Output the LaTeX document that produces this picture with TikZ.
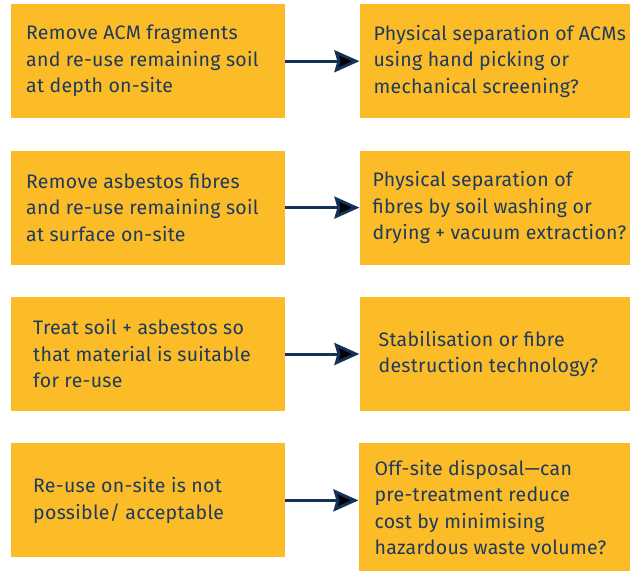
\documentclass[tikz,border=0pt]{standalone}
\usepackage{fontspec}
\setmainfont[LetterSpace = 1.5]{Fira Sans}
\usetikzlibrary{positioning, arrows.meta}
\definecolor{optyellow}{HTML}{FBBC28}
\definecolor{optnavy}{HTML}{1E3A5F}
\definecolor{arrnavy}{HTML}{12325A}

\begin{document}
\begin{tikzpicture}[x = 1pt, y = 1pt,
    option/.style = {fill = optyellow, minimum width = 274pt, minimum height = 114pt, inner sep = 0pt},
    method/.style = {fill = optyellow, minimum width = 271pt, minimum height = 114pt, inner sep = 0pt},
    txt/.style = {align = left, inner sep = 0pt, text = optnavy, font = \fontsize{19.5}{26.5}\selectfont},
    link/.style = {draw = arrnavy, line width = 3pt, -{Stealth[length = 25pt, width = 22pt, inset = 3pt]}}]
  \useasboundingbox (0,0) rectangle (630,-571);
  % left column: re-use options
  \node[option, anchor = north west] (o1) at (11,-4) {};
  \node[option, below = 32pt of o1] (o2) {};
  \node[option, below = 32pt of o2] (o3) {};
  \node[option, below = 32pt of o3] (o4) {};
  % right column: methods
  \node[method, right = 74pt of o1] (m1) {};
  \node[method, right = 74pt of o2] (m2) {};
  \node[method, right = 74pt of o3] (m3) {};
  \node[method, minimum height = 128pt, right = 73pt of o4.north east, anchor = north west] (m4) {};

  \node[txt, right = 15pt of o1.west] (o1t) {Remove ACM fragments\\and re-use remaining soil\\at depth on-site};
  \node[txt, right = 15pt of o2.west] (o2t) {Remove asbestos fibres\\and re-use remaining soil\\at surface on-site};
  \node[txt, right = 22pt of o3.west] (o3t) {Treat soil + asbestos so\\that material is suitable\\for re-use};
  \node[txt, right = 22pt of o4.west] (o4t) {Re-use on-site is not\\possible/ acceptable};
  \node[txt, right = 14pt of m1.west] (m1t) {Physical separation of ACMs\\using hand picking or\\mechanical screening?};
  \node[txt, right = 13pt of m2.west] (m2t) {Physical separation of\\fibres by soil washing or\\drying + vacuum extraction?};
  \node[txt, right = 19pt of m3.west] (m3t) {Stabilisation or fibre\\destruction technology?};
  \node[txt, right = 16pt of m4.west] (m4t) {Off-site disposal---can\\pre-treatment reduce\\cost by minimising\\hazardous waste volume?};

  \path[link] (o1) edge (m1)
              (o2) edge (m2)
              (o3) edge (m3)
              (o4) edge (o4.east -| m4.west);
\end{tikzpicture}
\end{document}
